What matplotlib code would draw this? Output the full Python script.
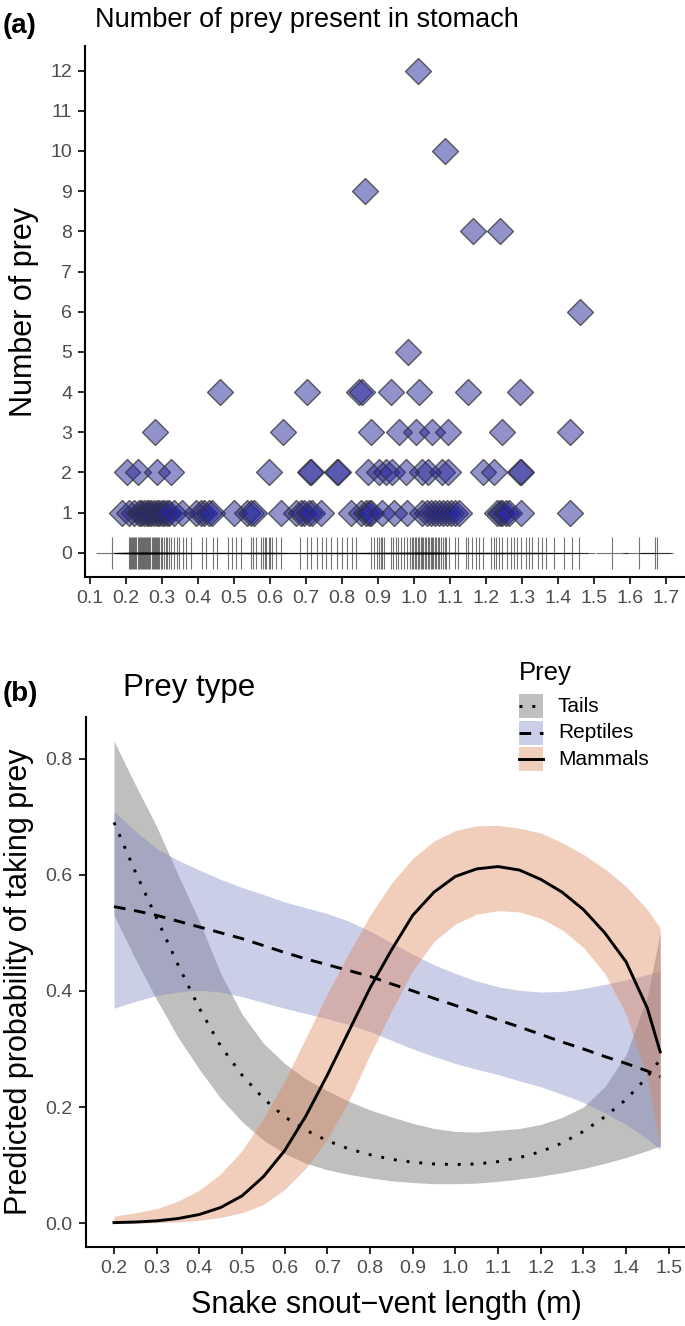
import numpy as np
import matplotlib
matplotlib.use("Agg")
import matplotlib.pyplot as plt
from matplotlib.patches import Rectangle
from matplotlib.lines import Line2D

plt.rcParams['font.family'] = ['Liberation Sans', 'DejaVu Sans']

# ---------------- Panel (a) data ----------------
# snakes with prey in the stomach (x = SVL in m, y = number of prey)
prey_svl_high = [1.011, 1.086, 0.864, 1.164, 1.239, 1.461, 0.983]
prey_n_high = [12, 10, 9, 8, 8, 6, 5]
prey_svl_4 = [0.461, 0.702, 0.847, 0.855, 0.935, 1.014, 1.15, 1.294]
prey_svl_3 = [0.281, 0.636, 0.880, 0.958, 1.005, 1.049, 1.093, 1.245, 1.432]
prey_svl_2 = [0.202, 0.234, 0.285, 0.324, 0.597, 0.711, 0.713, 0.787, 0.789, 0.873,
              0.903, 0.921, 0.94, 0.977, 1.023, 1.04, 1.079, 1.093, 1.192, 1.222,
              1.294, 1.296]
prey_svl_1 = [0.189, 0.208, 0.222, 0.236, 0.243, 0.25, 0.257, 0.264, 0.27, 0.278,
              0.285, 0.292, 0.299, 0.306, 0.313, 0.319, 0.333, 0.356,
              0.394, 0.408, 0.417, 0.431, 0.439, 0.5, 0.536, 0.547, 0.556, 0.631,
              0.672, 0.686, 0.694, 0.708, 0.717, 0.742,
              0.825, 0.853, 0.867, 0.875, 0.881, 0.911, 0.944, 0.981,
              1.022, 1.036, 1.047, 1.058, 1.069, 1.081, 1.092, 1.103, 1.114, 1.125,
              1.231, 1.239, 1.244, 1.256, 1.264, 1.297, 1.433]

# snakes with empty stomachs (plotted at 0)
empty_svl = [
    0.16,
    0.208, 0.211, 0.214, 0.217, 0.220, 0.223, 0.226, 0.229, 0.232, 0.235,
    0.238, 0.241, 0.244, 0.247, 0.250, 0.253, 0.256, 0.259, 0.262, 0.265,
    0.268, 0.271, 0.274, 0.277, 0.280, 0.283, 0.286, 0.289, 0.292, 0.296,
    0.300, 0.305, 0.310, 0.315, 0.320, 0.326, 0.333, 0.342,
    0.347, 0.358, 0.367, 0.381, 0.411, 0.422, 0.442, 0.453,
    0.483, 0.494, 0.506, 0.519, 0.547, 0.553, 0.561,
    0.575, 0.58, 0.585, 0.59, 0.596, 0.60, 0.606, 0.617, 0.631,
    0.683, 0.703, 0.714, 0.731, 0.744, 0.756, 0.769, 0.786,
    0.80, 0.814, 0.828, 0.839, 0.881, 0.889, 0.897, 0.908, 0.917,
    0.903, 0.911, 0.936, 0.942, 0.95, 0.956, 0.964, 0.972, 0.981, 0.989,
    0.994, 0.998, 1.002, 1.006, 1.010, 1.014, 1.018, 1.022, 1.026, 1.030,
    1.034, 1.038, 1.042, 1.046, 1.050, 1.054, 1.058, 1.062, 1.066, 1.070,
    1.075, 1.080, 1.085, 1.090, 1.097,
    1.114, 1.122, 1.144, 1.15, 1.161, 1.172, 1.181, 1.192,
    1.214, 1.222, 1.228, 1.236, 1.244, 1.258, 1.269, 1.278, 1.286, 1.297,
    1.311, 1.319, 1.328, 1.344, 1.356, 1.367, 1.389, 1.417, 1.439, 1.458,
    1.55, 1.625, 1.669, 1.675,
]

a_xticks = [0.1, 0.2, 0.3, 0.4, 0.5, 0.6, 0.7, 0.8, 0.9, 1.0, 1.1, 1.2, 1.3, 1.4, 1.5, 1.6, 1.7]
a_yticks = list(range(0, 13))

# ---------------- Panel (b) data ----------------
svl = [0.20, 0.25, 0.30, 0.35, 0.40, 0.45, 0.50, 0.55, 0.60, 0.65, 0.70, 0.75, 0.80,
       0.85, 0.90, 0.95, 1.00, 1.05, 1.10, 1.15, 1.20, 1.25, 1.30, 1.35, 1.40, 1.45, 1.48]

tails_fit = [0.69, 0.605, 0.525, 0.445, 0.37, 0.305, 0.255, 0.215, 0.183, 0.16, 0.142, 0.128, 0.118,
             0.11, 0.105, 0.102, 0.101, 0.102, 0.106, 0.113, 0.123, 0.138, 0.158, 0.183, 0.213, 0.252, 0.282]
tails_lo = [0.53, 0.455, 0.385, 0.32, 0.265, 0.215, 0.175, 0.143, 0.12, 0.103, 0.092, 0.084, 0.078,
            0.073, 0.07, 0.068, 0.068, 0.069, 0.072, 0.076, 0.081, 0.087, 0.094, 0.103, 0.113, 0.125, 0.133]
tails_hi = [0.83, 0.755, 0.683, 0.60, 0.52, 0.43, 0.36, 0.31, 0.275, 0.248, 0.228, 0.21, 0.195,
            0.183, 0.172, 0.163, 0.158, 0.157, 0.16, 0.163, 0.17, 0.182, 0.2, 0.235, 0.29, 0.39, 0.50]

rept_fit = [0.545, 0.538, 0.53, 0.52, 0.51, 0.50, 0.49, 0.478, 0.466, 0.455, 0.445, 0.435, 0.425,
            0.412, 0.40, 0.387, 0.375, 0.362, 0.35, 0.338, 0.325, 0.312, 0.30, 0.287, 0.275, 0.262, 0.252]
rept_lo = [0.37, 0.382, 0.392, 0.398, 0.401, 0.398, 0.39, 0.38, 0.37, 0.361, 0.352, 0.342, 0.33,
           0.315, 0.30, 0.287, 0.275, 0.265, 0.256, 0.245, 0.235, 0.222, 0.208, 0.19, 0.17, 0.145, 0.127]
rept_hi = [0.709, 0.675, 0.645, 0.625, 0.608, 0.592, 0.578, 0.566, 0.553, 0.543, 0.533, 0.52, 0.503,
           0.483, 0.463, 0.445, 0.43, 0.417, 0.407, 0.401, 0.398, 0.399, 0.404, 0.411, 0.419, 0.428, 0.434]

mamm_fit = [0.001, 0.002, 0.004, 0.008, 0.015, 0.027, 0.047, 0.08, 0.125, 0.185, 0.255, 0.33, 0.405,
            0.47, 0.53, 0.57, 0.597, 0.61, 0.614, 0.608, 0.592, 0.57, 0.54, 0.50, 0.45, 0.37, 0.295]
mamm_lo = [0.0, 0.0, 0.001, 0.002, 0.005, 0.01, 0.018, 0.032, 0.058, 0.095, 0.145, 0.21, 0.29,
           0.365, 0.435, 0.485, 0.515, 0.532, 0.538, 0.536, 0.525, 0.505, 0.475, 0.43, 0.36, 0.25, 0.13]
mamm_hi = [0.012, 0.018, 0.025, 0.038, 0.057, 0.085, 0.125, 0.18, 0.245, 0.32, 0.395, 0.465, 0.53,
           0.585, 0.628, 0.658, 0.676, 0.684, 0.685, 0.68, 0.672, 0.655, 0.635, 0.61, 0.58, 0.54, 0.508]

b_xticks = [0.2, 0.3, 0.4, 0.5, 0.6, 0.7, 0.8, 0.9, 1.0, 1.1, 1.2, 1.3, 1.4, 1.5]
b_yticks = [0.0, 0.2, 0.4, 0.6, 0.8]
prey_names = ['Tails', 'Reptiles', 'Mammals']

# ---------------- figure ----------------
W, H = 685, 1326
fig = plt.figure(figsize=(W / 100, H / 100), dpi=100)


def px_axes(left, top, right, bottom, **kw):
    return fig.add_axes([left / W, 1 - bottom / H, (right - left) / W, (bottom - top) / H], **kw)


def style(ax):
    for s in ['top', 'right']:
        ax.spines[s].set_visible(False)
    for s in ['left', 'bottom']:
        ax.spines[s].set_linewidth(1.5)
        ax.spines[s].set_color('black')
    ax.tick_params(axis='both', length=4.8, width=1.2, color='black',
                   labelcolor='#4d4d4d', labelsize=14)
    ax.tick_params(axis='x', pad=4.5)
    ax.tick_params(axis='y', pad=4.5)


# ---- Panel (a)
axa = px_axes(85, 46.4, 688, 577)
style(axa)
axa.plot(empty_svl, [0] * len(empty_svl), linestyle='none', marker='+',
         markersize=23, markeredgewidth=0.8, color='black', alpha=0.55)
dfc = (37 / 255, 37 / 255, 153 / 255, 0.5)
dec = (0.2, 0.2, 0.2, 0.75)
groups = [(prey_svl_high, prey_n_high), (prey_svl_4, [4] * len(prey_svl_4)),
          (prey_svl_3, [3] * len(prey_svl_3)), (prey_svl_2, [2] * len(prey_svl_2)),
          (prey_svl_1, [1] * len(prey_svl_1))]
for xs, ys in groups:
    axa.plot(xs, ys, linestyle='none', marker='D', markersize=13.6,
             markerfacecolor=dfc, markeredgecolor=dec, markeredgewidth=1.0)
axa.set_xlim(0.0861, 1.761)
axa.set_ylim(-0.6, 12.6)
axa.set_xticks(a_xticks)
axa.set_xticklabels([f'{v:.1f}' for v in a_xticks])
axa.set_yticks(a_yticks)
axa.set_ylabel('Number of prey', fontsize=22, labelpad=8)
fig.text(3 / W, 1 - 33 / H, '(a)', fontsize=20, fontweight='bold', va='baseline', ha='left')
fig.text(95 / W, 1 - 27 / H, 'Number of prey present in stomach', fontsize=19.5,
         va='baseline', ha='left')

# ---- Panel (b)
axb = px_axes(85.7, 717, 687.5, 1247.3)
style(axb)
cols = [(0.38, 0.38, 0.36), (0.49, 0.52, 0.77), (0.87, 0.51, 0.34)]
band_alpha = 0.4
fits = [tails_fit, rept_fit, mamm_fit]
los = [tails_lo, rept_lo, mamm_lo]
his = [tails_hi, rept_hi, mamm_hi]
styles = [(0, (1, 3.4)), (0, (4, 3)), '-']
LW = 2.1
for c, lo, hi in zip(cols, los, his):
    axb.fill_between(svl, lo, hi, color=c, alpha=band_alpha, linewidth=0)
for f, ls in zip(fits, styles):
    axb.plot(svl, f, color='black', linestyle=ls, linewidth=LW,
             dash_capstyle='butt', solid_joinstyle='round')
axb.set_xlim(0.1337, 1.544)
axb.set_ylim(-0.0415, 0.8715)
axb.set_xticks(b_xticks)
axb.set_xticklabels([f'{v:.1f}' for v in b_xticks])
axb.set_yticks(b_yticks)
axb.set_yticklabels([f'{v:.1f}' for v in b_yticks])
axb.set_ylabel('Predicted probability of taking prey', fontsize=22, labelpad=8)
axb.set_xlabel('Snake snout\u2212vent length (m)', fontsize=22, labelpad=9)
fig.text(3 / W, 1 - 701 / H, '(b)', fontsize=20, fontweight='bold', va='baseline', ha='left')
fig.text(123 / W, 1 - 696 / H, 'Prey type', fontsize=22.5, va='baseline', ha='left')

# ---- Legend (drawn in a pixel-coordinate overlay axes)
lg = px_axes(505, 640, 685, 790, facecolor='none')
lg.set_xlim(505, 685)
lg.set_ylim(790, 640)
lg.axis('off')
lg.text(519, 680, 'Prey', fontsize=18.5, va='baseline', ha='left')
key_top = 694
key_step = 26.7
for i, (name, c, ls) in enumerate(zip(prey_names, cols, styles)):
    y0 = key_top + i * key_step
    lg.add_patch(Rectangle((519, y0), 24, 24, facecolor=c, alpha=band_alpha,
                           edgecolor='none'))
    lg.add_line(Line2D([519, 543], [y0 + 12, y0 + 12], color='black', linestyle=ls,
                       linewidth=LW, dash_capstyle='butt'))
    lg.text(558, y0 + 12, name, fontsize=15, va='center', ha='left')

fig.savefig('out.png', dpi=100)
